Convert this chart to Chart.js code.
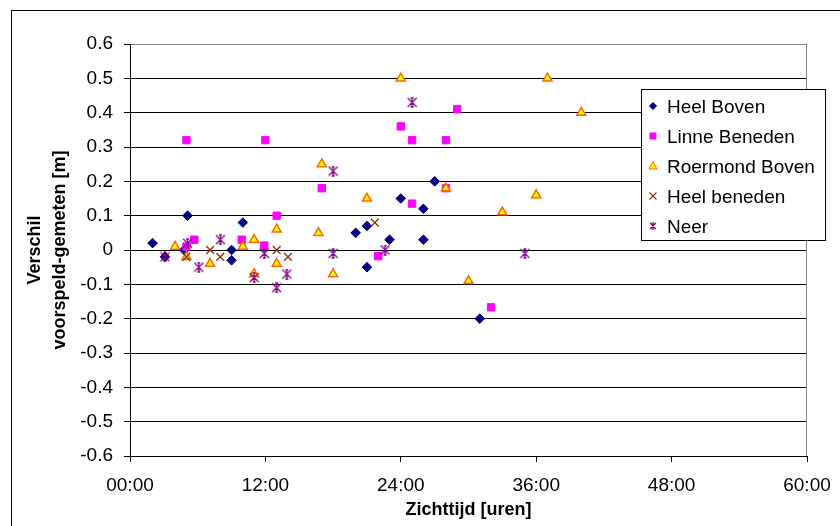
<!DOCTYPE html>
<html>
<head>
<meta charset="utf-8">
<script src="https://cdn.jsdelivr.net/npm/chart.js@4.4.1/dist/chart.umd.min.js"></script>
<style>
  html, body { margin: 0; padding: 0; background: #fff; }
  canvas { display: block; }
</style>
</head>
<body>
<canvas id="chart" width="840" height="526"></canvas>
<script>
"use strict";

// verschil voorspeld - gemeten per zichttijd (uren)
const heelBovenX = [2, 3.1, 4.8, 5.1, 9, 9, 10, 20, 21, 21, 23, 24, 26, 26, 27, 31];
const heelBovenY = [0.02, -0.02, 0.0, 0.1, 0.0, -0.03, 0.08, 0.05, 0.07, -0.05, 0.03, 0.15, 0.12, 0.03, 0.2, -0.2];

const linneX = [5, 5, 5.7, 9.9, 11.9, 12, 13, 17, 22, 24, 25, 25, 28, 28, 29, 32];
const linneY = [0.32, 0.01, 0.03, 0.03, 0.013, 0.32, 0.1, 0.18, -0.018, 0.36, 0.32, 0.135, 0.32, 0.18, 0.41, -0.167];

const roermondX = [4, 5, 7.1, 10, 11, 11, 13, 13, 16.7, 17, 18, 21, 24, 28, 30, 33, 36, 37, 40];
const roermondY = [0.01, -0.02, -0.04, 0.01, 0.03, -0.07, 0.06, -0.04, 0.05, 0.25, -0.07, 0.15, 0.5, 0.18, -0.09, 0.11, 0.16, 0.5, 0.4];

const heelBenedenX = [5, 7.1, 8, 13, 14, 21.7];
const heelBenedenY = [-0.02, 0.0, -0.02, 0.0, -0.02, 0.08];

const neerX = [3.1, 5.1, 6.1, 8, 11, 11.9, 13, 13.9, 18, 18, 22.6, 25, 35];
const neerY = [-0.02, 0.02, -0.05, 0.03, -0.08, -0.01, -0.11, -0.07, 0.23, -0.01, 0.0, 0.43, -0.01];

const xTicks = [0, 12, 24, 36, 48, 60];
const xTickLabels = ['00:00', '12:00', '24:00', '36:00', '48:00', '60:00'];

const FONT = '"Liberation Sans", Arial, sans-serif';

function zip(xs, ys) {
  return xs.map((x, i) => ({ x: x, y: ys[i] }));
}

// excel style star marker: X with a vertical bar and little caps
function asterisk(size, color, lw) {
  const c = document.createElement('canvas');
  c.width = size;
  c.height = size;
  const g = c.getContext('2d');
  g.strokeStyle = color;
  g.lineWidth = lw;
  const a = 1, b = size - 1, m = size / 2;
  g.beginPath();
  g.moveTo(a, a); g.lineTo(b, b);
  g.moveTo(b, a); g.lineTo(a, b);
  g.moveTo(m, a); g.lineTo(m, b);
  g.moveTo(m - 1.5, a); g.lineTo(m + 1.5, a);
  g.moveTo(m - 1.5, b); g.lineTo(m + 1.5, b);
  g.stroke();
  return c;
}

const neerMarker = asterisk(11, '#800080', 1.3);
const neerLegendMarker = asterisk(8, '#800080', 1.1);

// small hand drawn markers for the legend box
function legendMarker(ctx, ds, x, y) {
  ctx.save();
  ctx.fillStyle = ds.pointBackgroundColor;
  ctx.strokeStyle = ds.pointBorderColor;
  ctx.lineWidth = 1;
  ctx.beginPath();
  if (ds.pointStyle === 'rectRot') {
    const r = 3.5;
    ctx.moveTo(x - r, y); ctx.lineTo(x, y - r); ctx.lineTo(x + r, y); ctx.lineTo(x, y + r);
    ctx.closePath(); ctx.fill(); ctx.stroke();
  } else if (ds.pointStyle === 'rect') {
    ctx.rect(x - 3, y - 3, 6, 6);
    ctx.fill(); ctx.stroke();
  } else if (ds.pointStyle === 'triangle') {
    ctx.moveTo(x, y - 4.5); ctx.lineTo(x + 4, y + 3); ctx.lineTo(x - 4, y + 3);
    ctx.closePath(); ctx.fill(); ctx.stroke();
  } else if (ds.pointStyle === 'crossRot') {
    ctx.lineWidth = 1.2;
    ctx.moveTo(x - 3.5, y - 3.5); ctx.lineTo(x + 3.5, y + 3.5);
    ctx.moveTo(x + 3.5, y - 3.5); ctx.lineTo(x - 3.5, y + 3.5);
    ctx.stroke();
  } else {
    ctx.drawImage(neerLegendMarker, x - 4, y - 4);
  }
  ctx.restore();
}

const frameAndLegend = {
  id: 'frameAndLegend',
  beforeDraw(chart) {
    const ctx = chart.ctx;
    ctx.save();
    ctx.fillStyle = '#fff';
    ctx.fillRect(0, 0, chart.width, chart.height);
    ctx.restore();
  },
  beforeDatasetsDraw(chart) {
    const ctx = chart.ctx;
    const a = chart.chartArea;
    ctx.save();
    ctx.strokeStyle = '#808080';
    ctx.lineWidth = 1;
    ctx.beginPath();
    ctx.moveTo(Math.round(a.right) - 0.5, a.top);
    ctx.lineTo(Math.round(a.right) - 0.5, a.bottom);
    ctx.stroke();
    ctx.restore();
  },
  afterDraw(chart) {
    const ctx = chart.ctx;
    ctx.save();
    // outer chart border, runs off the right and bottom
    ctx.strokeStyle = '#000';
    ctx.lineWidth = 1;
    ctx.strokeRect(11.5, 10.5, 900, 900);

    ctx.fillStyle = '#fff';
    ctx.fillRect(641.5, 89.5, 184, 151);
    ctx.strokeRect(641.5, 89.5, 184, 151);
    ctx.font = '19px ' + FONT;
    ctx.textBaseline = 'alphabetic';
    chart.data.datasets.forEach((ds, i) => {
      const y = 106 + i * 30;
      legendMarker(ctx, ds, 653, y);
      ctx.fillStyle = '#000';
      ctx.fillText(ds.label, 667, y + 7);
    });
    ctx.restore();
  }
};

new Chart(document.getElementById('chart'), {
  type: 'scatter',
  data: {
    datasets: [
      {
        label: 'Heel Boven',
        data: zip(heelBovenX, heelBovenY),
        pointStyle: 'rectRot',
        pointRadius: 4.8,
        pointBackgroundColor: '#000080',
        pointBorderColor: '#000080',
        pointBorderWidth: 1,
        order: 5
      },
      {
        label: 'Linne Beneden',
        data: zip(linneX, linneY),
        pointStyle: 'rect',
        pointRadius: 5.2,
        pointBackgroundColor: '#ff00ff',
        pointBorderColor: '#ff00ff',
        pointBorderWidth: 1,
        order: 4
      },
      {
        label: 'Roermond Boven',
        data: zip(roermondX, roermondY),
        pointStyle: 'triangle',
        pointRadius: 5.2,
        pointBackgroundColor: '#ffff00',
        pointBorderColor: '#ff6600',
        pointBorderWidth: 1.5,
        order: 3
      },
      {
        label: 'Heel beneden',
        data: zip(heelBenedenX, heelBenedenY),
        pointStyle: 'crossRot',
        pointRadius: 5.5,
        pointBackgroundColor: '#993300',
        pointBorderColor: '#993300',
        pointBorderWidth: 1.4,
        order: 2
      },
      {
        label: 'Neer',
        data: zip(neerX, neerY),
        pointStyle: neerMarker,
        pointRadius: 5,
        pointBackgroundColor: '#800080',
        pointBorderColor: '#800080',
        order: 1
      }
    ]
  },
  options: {
    responsive: false,
    animation: false,
    events: [],
    layout: { padding: { left: 0, top: 44, right: 33, bottom: 0 } },
    plugins: {
      legend: { display: false },
      tooltip: { enabled: false }
    },
    scales: {
      x: {
        type: 'linear',
        min: 0,
        max: 60,
        afterBuildTicks: s => { s.ticks = xTicks.map(v => ({ value: v })); },
        afterFit: s => { s.height = 70; s.paddingLeft = 0; s.paddingRight = 0; },
        grid: { drawOnChartArea: false, drawTicks: true, tickLength: 6, color: '#000', tickColor: '#000' },
        border: { display: true, color: '#000', width: 1 },
        ticks: {
          color: '#000',
          font: { family: FONT, size: 19 },
          padding: 12,
          maxRotation: 0,
          callback: v => xTickLabels[xTicks.indexOf(v)]
        },
        title: {
          display: true,
          text: 'Zichttijd [uren]',
          color: '#000',
          font: { family: FONT, size: 18, weight: 'bold', lineHeight: 1.2 },
          padding: { top: 0, bottom: 5 }
        }
      },
      y: {
        min: -0.6,
        max: 0.6,
        afterFit: s => { s.width = 130; s.paddingTop = 0; s.paddingBottom = 0; },
        grid: {
          drawTicks: true,
          tickLength: 6,
          color: c => (c.tick && Math.abs(c.tick.value - 0.6) < 1e-6) ? '#808080' : '#000',
          tickColor: '#000'
        },
        border: { display: true, color: '#000', width: 1 },
        ticks: {
          stepSize: 0.1,
          color: '#000',
          font: { family: FONT, size: 19 },
          padding: 11,
          callback: v => {
            const r = Math.round(v * 10) / 10;
            return r === 0 ? '0' : r.toFixed(1);
          }
        },
        title: {
          display: true,
          text: ['Verschil', 'voorspeld-gemeten [m]'],
          color: '#000',
          font: { family: FONT, size: 18, weight: 'bold', lineHeight: 1.4 },
          padding: { top: 22, bottom: 0 }
        }
      }
    }
  },
  plugins: [frameAndLegend]
});
</script>
</body>
</html>
